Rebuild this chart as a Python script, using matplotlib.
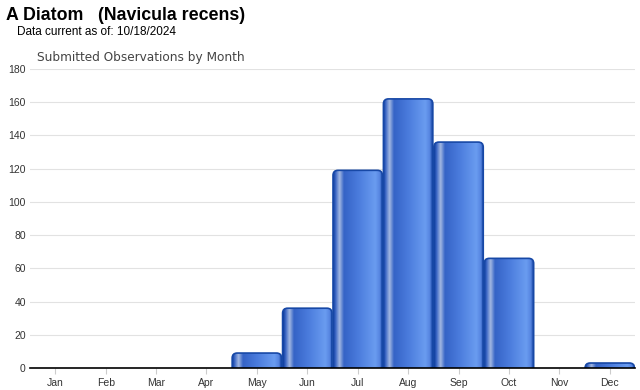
import numpy as np
import matplotlib.pyplot as plt
from matplotlib.patches import FancyBboxPatch
from matplotlib.colors import LinearSegmentedColormap

months = ['Jan', 'Feb', 'Mar', 'Apr', 'May', 'Jun', 'Jul', 'Aug', 'Sep', 'Oct', 'Nov', 'Dec']
counts = [0, 0, 0, 0, 9, 36, 119, 162, 136, 66, 0, 3]
yticks = [0, 20, 40, 60, 80, 100, 120, 140, 160, 180]

# gradient across each bar: dark edge, light stripe, dark, brighter toward right, dark edge
grad = LinearSegmentedColormap.from_list('bar', [
    (0.00, '#0b3a9a'), (0.05, '#3a66c4'), (0.13, '#a3b8e2'), (0.22, '#3563c6'),
    (0.50, '#4a7bdc'), (0.85, '#6a9cf0'), (0.94, '#5584e0'), (1.00, '#0b3a9a')])

fig = plt.figure(figsize=(6.4, 3.9), dpi=100)
ax = fig.add_axes([30/640, 22/390, 605/640, 299/390])

x = np.arange(len(months))
ax.set_xlim(-0.5, 11.5)
ax.set_ylim(0, 180)
w = 0.98
# pixels per unit for rounding
aspect = (605/12) / (299/180)
g = np.linspace(0, 1, 256).reshape(1, -1)
for xi, c in zip(x, counts):
    if c <= 0:
        continue
    box = FancyBboxPatch((xi - w/2, -6), w, c + 6,
                         boxstyle='round,pad=0,rounding_size=0.1',
                         mutation_aspect=aspect, transform=ax.transData,
                         facecolor='none', edgecolor='#1748a6', lw=1.2, zorder=3)
    ax.add_patch(box)
    im = ax.imshow(g, cmap=grad, aspect='auto', extent=(xi - w/2, xi + w/2, -6, c),
                   zorder=2, interpolation='bilinear')
    im.set_clip_path(box)

ax.set_xticks(x)
ax.set_xticklabels(months)
ax.set_yticks(yticks)
ax.grid(axis='y', color='#e2e2e2', lw=0.8, zorder=0)
ax.set_axisbelow(True)
for s in ['top', 'right', 'left']:
    ax.spines[s].set_visible(False)
ax.spines['bottom'].set_color('black')
ax.spines['bottom'].set_linewidth(1.2)
ax.spines['bottom'].set_zorder(5)
ax.tick_params(axis='x', length=4, color='#cccccc', labelsize=7.5, labelcolor='#333333', pad=3)
ax.tick_params(axis='y', length=0, labelsize=7.5, labelcolor='#333333', pad=3)
for t in ax.get_xticklabels() + ax.get_yticklabels():
    t.set_fontfamily('Liberation Sans')

fig.text(6/640, 1 - 16/390, 'A Diatom   (Navicula recens)', fontsize=12.8, fontweight='bold',
         family='Liberation Sans', va='center', ha='left')
fig.text(17/640, 1 - 32/390, 'Data current as of: 10/18/2024', fontsize=8.5,
         family='Liberation Sans', va='center', ha='left')
fig.text(37/640, 1 - 58/390, 'Submitted Observations by Month', fontsize=8.7,
         family='DejaVu Sans', color='#444444', va='center', ha='left')

fig.savefig('out.png', dpi=100)
